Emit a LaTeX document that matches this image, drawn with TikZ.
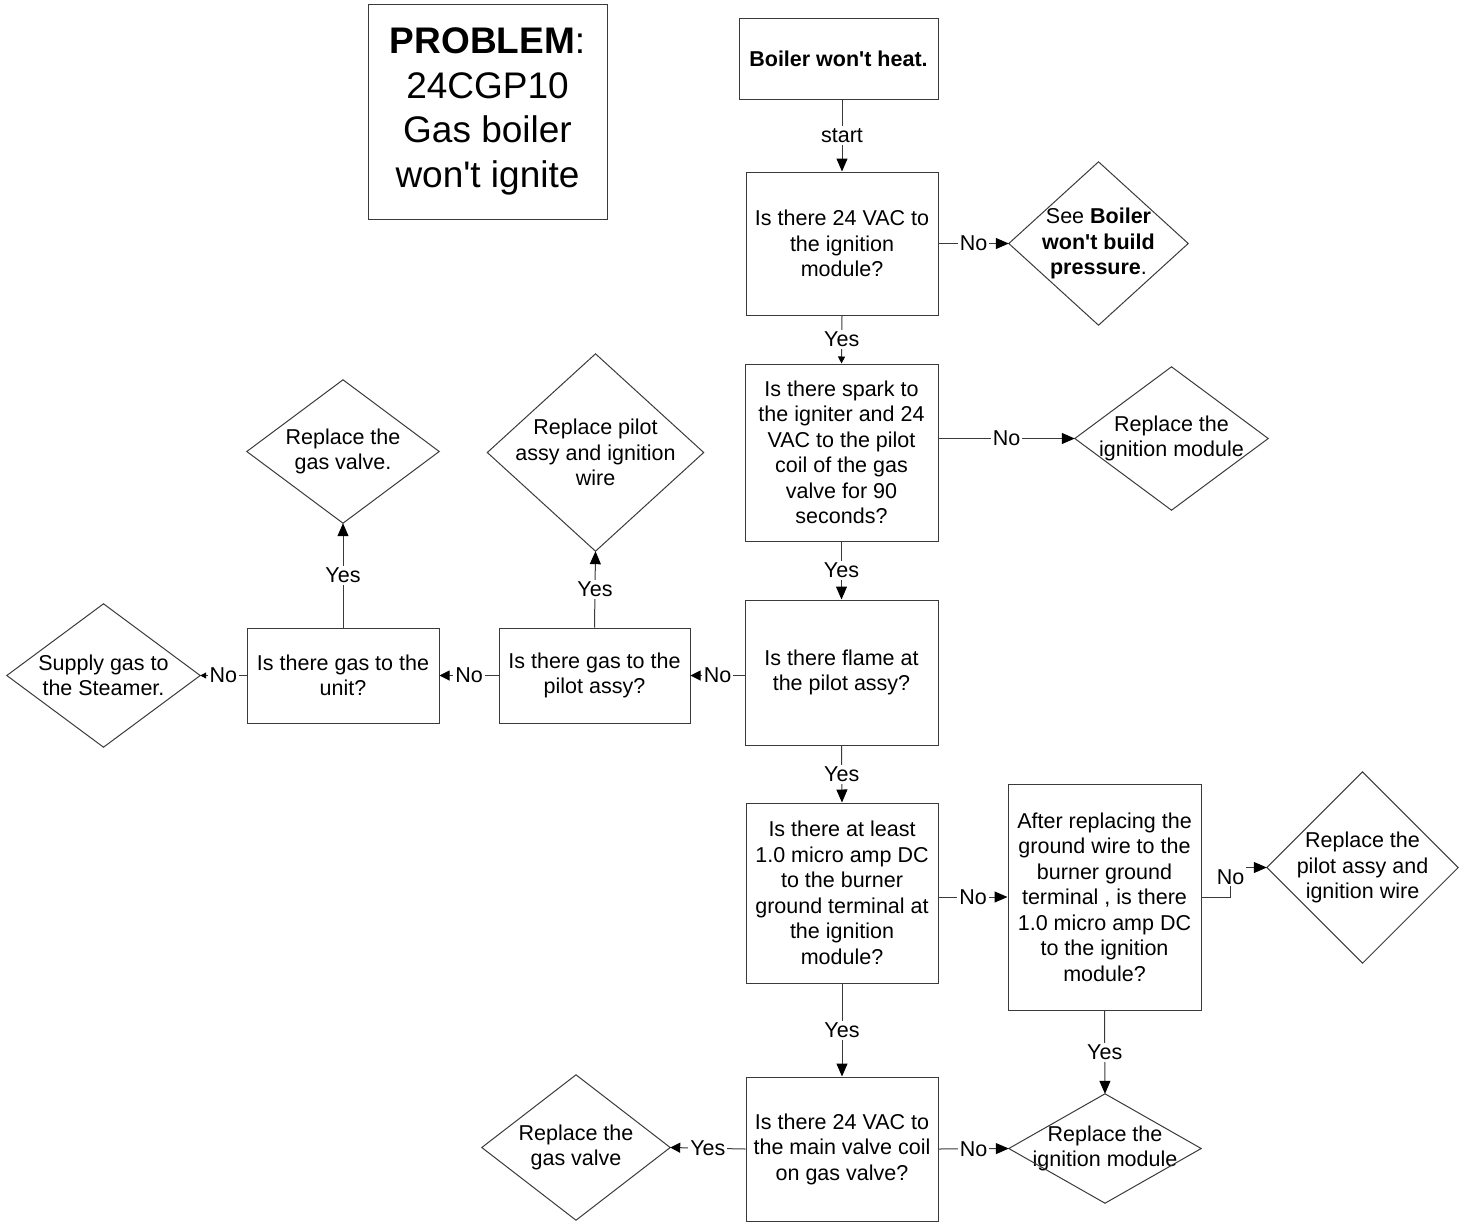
\documentclass[tikz,border=0pt]{standalone}
\usepackage{fontspec}
\setmainfont{Liberation Sans}
\usetikzlibrary{arrows.meta}
\definecolor{linec}{HTML}{3A3A3A}
\newcommand\apos{\textquotesingle}
\begin{document}
\begin{tikzpicture}[x=1pt,y=-1pt,
  every node/.style={font=\fontsize{21.5}{25.5}\selectfont, align=center, inner sep=0pt},
  box/.style 2 args={draw=linec, line width=1pt, minimum width=#1pt, minimum height=#2pt},
  dia/.style 2 args={minimum width=#1pt, minimum height=#2pt},
  conn/.style={draw=linec, line width=1pt},
  big/.style={conn, -{Triangle[length=13pt,width=11pt,black]}},
  mid/.style={conn, -{Triangle[length=10pt,width=10pt,black]}},
  small/.style={conn, -{Triangle[length=7pt,width=7pt,black]}},
  lbl/.style={fill=white, inner sep=2pt, midway}
]
\useasboundingbox (0,0) rectangle (1464,1224);

% title box
\node[box={239}{215}, font=\fontsize{37}{44.5}\selectfont] (prob) at (487.5,111.5)
  {\textbf{PROBLEM}:\\24CGP10\\Gas boiler\\won\apos t ignite};

% process and question boxes
\node[box={199}{81}] (b0) at (838.5,58.5) {\textbf{Boiler won\apos t heat.}};
\node[box={192}{143}] (q1) at (842,243.5) {Is there 24 VAC to\\the ignition\\module?};
\node[box={193}{177}] (q2) at (841.5,452.5) {Is there spark to\\the igniter and 24\\VAC to the pilot\\coil of the gas\\valve for 90\\seconds?};
\node[box={193}{145}] (q3) at (841.5,672.5) {Is there flame at\\the pilot assy?};
\node[box={191}{95}] (p1) at (594.5,675.5) {Is there gas to the\\pilot assy?};
\node[box={192}{95}] (p2) at (343,675.5) {Is there gas to the\\unit?};
\node[box={192}{180}] (q4) at (842,893) {Is there at least\\1.0 micro amp DC\\to the burner\\ground terminal at\\the ignition\\module?};
\node[box={193}{226}] (q5) at (1104.5,897) {After replacing the\\ground wire to the\\burner ground\\terminal , is there\\1.0 micro amp DC\\to the ignition\\module?};
\node[box={192}{144}] (q6) at (842,1149) {Is there 24 VAC to\\the main valve coil\\on gas valve?};

% outcome diamonds (outlines drawn below)
\node[dia={179}{163}] (d1) at (1098.5,243.5) {See \textbf{Boiler}\\\textbf{won\apos t build}\\\textbf{pressure}.};
\node[dia={193}{143}] (d2) at (1171.5,438.5) {Replace the\\ignition module};
\node[dia={216}{197}] (d3) at (595.5,452.5) {Replace pilot\\assy and ignition\\wire};
\node[dia={192}{143}] (d4) at (343,451.5) {Replace the\\gas valve.};
\node[dia={193}{143}] (d5) at (103.5,675.5) {Supply gas to\\the Steamer.};
\node[dia={191}{191}] (d6) at (1362.5,867.5) {Replace the\\pilot assy and\\ignition wire};
\node[dia={192}{109}] (d7) at (1105,1148.5) {Replace the\\ignition module};
\node[dia={188}{145}] (d8) at (576,1147.5) {Replace the\\gas valve};

\foreach \d in {d1,d2,d3,d4,d5,d6,d7,d8}
  \draw[conn] (\d.north) -- (\d.east) -- (\d.south) -- (\d.west) -- cycle;

% connectors
\draw[big] (b0.south -| q1.north) -- node[lbl]{start} (q1.north);
\draw[big] (q1.east) -- node[lbl]{No} (d1.west);
\draw[small] (q1.south) -- node[lbl]{Yes} (q2.north);
\draw[big] (q2.east |- d2.west) -- node[lbl]{No} (d2.west);
\draw[big] (q2.south) -- node[lbl]{Yes} (q3.north);
\draw[mid] (q3.west |- p1.east) -- node[lbl]{No} (p1.east);
\draw[big] (p1.north) -- node[lbl]{Yes} (d3.south);
\draw[mid] (p1.west) -- node[lbl]{No} (p2.east);
\draw[big] (p2.north) -- node[lbl]{Yes} (d4.south);
\draw[conn, -{Triangle[length=6pt,width=6pt,black]}] (p2.west) -- node[lbl]{No} (d5.east);
\draw[big] (q3.south) -- node[lbl]{Yes} (q4.north);
\draw[big] (q4.east |- q5.west) -- node[lbl]{No} (q5.west);
\draw[big] (q5.east) -- ++(29,0) |- node[lbl, pos=0.34]{No} (d6.west);
\draw[big] (q4.south) -- node[lbl]{Yes} (q6.north);
\draw[big] (q5.south) -- node[lbl]{Yes} (d7.north);
\draw[big] (q6.east) -- node[lbl]{No} (d7.west);
\draw[mid] (q6.west) -- node[lbl]{Yes} (d8.east);
\end{tikzpicture}
\end{document}
